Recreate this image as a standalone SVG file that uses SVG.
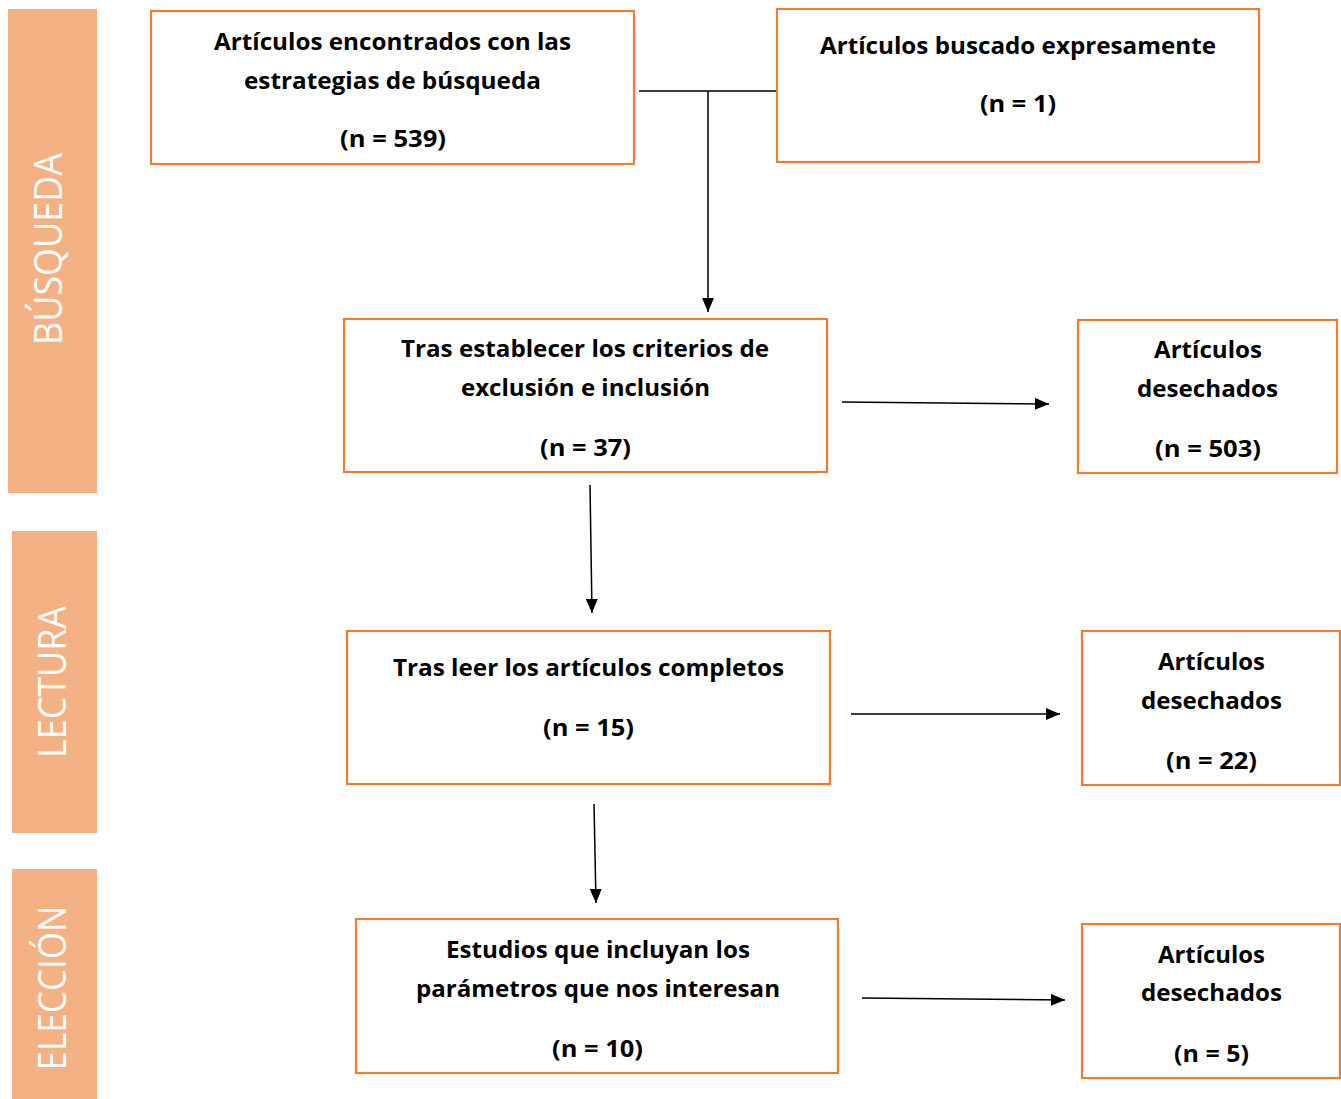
<svg xmlns="http://www.w3.org/2000/svg" width="1341" height="1099" viewBox="0 0 1341 1099">
<style>
.bar{fill:#F4B183;}
.side{fill:#ffffff;font-family:"Open Sans","Noto Sans",sans-serif;font-size:38px;font-weight:400;text-anchor:middle;}
.box{fill:#ffffff;stroke:#ED7D31;stroke-width:2.2;}
.t{fill:#000000;font-family:"Open Sans","Noto Sans",sans-serif;font-size:24px;font-weight:700;}
.c{fill:none;stroke:#000000;stroke-width:1.5;}
</style>
<defs>
<marker id="ah" markerWidth="14" markerHeight="12" refX="14" refY="6" orient="auto" markerUnits="userSpaceOnUse">
<path d="M0,0 L14,6 L0,12 Z" fill="#000000"/>
</marker>
</defs>
<rect width="1341" height="1099" fill="#ffffff"/>
<g id="stage-busqueda">
<rect class="bar" x="8" y="9" width="89" height="484"/>
<text class="side" transform="translate(62,249) rotate(-90)" textLength="192" lengthAdjust="spacingAndGlyphs">BÚSQUEDA</text>
</g>
<g id="stage-lectura">
<rect class="bar" x="12" y="531" width="85" height="302"/>
<text class="side" transform="translate(66,682) rotate(-90)" textLength="152" lengthAdjust="spacingAndGlyphs">LECTURA</text>
</g>
<g id="stage-eleccion">
<rect class="bar" x="12" y="869" width="85" height="230"/>
<text class="side" transform="translate(66,988) rotate(-90)" textLength="165" lengthAdjust="spacingAndGlyphs">ELECCIÓN</text>
</g>
<g id="connectors">
<line class="c" x1="639" y1="91" x2="779" y2="91"/>
<line class="c" x1="708" y1="91" x2="708" y2="312" marker-end="url(#ah)"/>
<line class="c" x1="842" y1="402" x2="1049" y2="404" marker-end="url(#ah)"/>
<line class="c" x1="590" y1="485" x2="592" y2="613" marker-end="url(#ah)"/>
<line class="c" x1="851" y1="714" x2="1060" y2="714" marker-end="url(#ah)"/>
<line class="c" x1="594" y1="804" x2="596" y2="903" marker-end="url(#ah)"/>
<line class="c" x1="862" y1="998" x2="1065" y2="1000" marker-end="url(#ah)"/>
</g>
<g id="box-encontrados">
<rect class="box" x="151" y="11" width="483" height="153"/>
<text class="t" x="214" y="50" textLength="357" lengthAdjust="spacingAndGlyphs">Artículos encontrados con las</text>
<text class="t" x="244" y="89" textLength="297" lengthAdjust="spacingAndGlyphs">estrategias de búsqueda</text>
<text class="t" x="340" y="147" textLength="106" lengthAdjust="spacingAndGlyphs">(n = 539)</text>
</g>
<g id="box-buscado">
<rect class="box" x="777" y="9" width="482" height="153"/>
<text class="t" x="820" y="54" textLength="396" lengthAdjust="spacingAndGlyphs">Artículos buscado expresamente</text>
<text class="t" x="980" y="112" textLength="76" lengthAdjust="spacingAndGlyphs">(n = 1)</text>
</g>
<g id="box-criterios">
<rect class="box" x="344" y="319" width="483" height="153"/>
<text class="t" x="401" y="357" textLength="368" lengthAdjust="spacingAndGlyphs">Tras establecer los criterios de</text>
<text class="t" x="461" y="396" textLength="249" lengthAdjust="spacingAndGlyphs">exclusión e inclusión</text>
<text class="t" x="540" y="456" textLength="91" lengthAdjust="spacingAndGlyphs">(n = 37)</text>
</g>
<g id="box-desechados-503">
<rect class="box" x="1078" y="320" width="259" height="153"/>
<text class="t" x="1154" y="358" textLength="108" lengthAdjust="spacingAndGlyphs">Artículos</text>
<text class="t" x="1137" y="397" textLength="141" lengthAdjust="spacingAndGlyphs">desechados</text>
<text class="t" x="1155" y="457" textLength="106" lengthAdjust="spacingAndGlyphs">(n = 503)</text>
</g>
<g id="box-lectura">
<rect class="box" x="347" y="631" width="483" height="153"/>
<text class="t" x="393" y="676" textLength="391" lengthAdjust="spacingAndGlyphs">Tras leer los artículos completos</text>
<text class="t" x="543" y="736" textLength="91" lengthAdjust="spacingAndGlyphs">(n = 15)</text>
</g>
<g id="box-desechados-22">
<rect class="box" x="1082" y="631" width="258" height="154"/>
<text class="t" x="1158" y="670" textLength="107" lengthAdjust="spacingAndGlyphs">Artículos</text>
<text class="t" x="1141" y="709" textLength="141" lengthAdjust="spacingAndGlyphs">desechados</text>
<text class="t" x="1166" y="769" textLength="91" lengthAdjust="spacingAndGlyphs">(n = 22)</text>
</g>
<g id="box-estudios">
<rect class="box" x="356" y="919" width="482" height="154"/>
<text class="t" x="446" y="958" textLength="304" lengthAdjust="spacingAndGlyphs">Estudios que incluyan los</text>
<text class="t" x="416" y="997" textLength="364" lengthAdjust="spacingAndGlyphs">parámetros que nos interesan</text>
<text class="t" x="552" y="1057" textLength="91" lengthAdjust="spacingAndGlyphs">(n = 10)</text>
</g>
<g id="box-desechados-5">
<rect class="box" x="1082" y="924" width="258" height="154"/>
<text class="t" x="1158" y="963" textLength="107" lengthAdjust="spacingAndGlyphs">Artículos</text>
<text class="t" x="1141" y="1001" textLength="141" lengthAdjust="spacingAndGlyphs">desechados</text>
<text class="t" x="1174" y="1062" textLength="75" lengthAdjust="spacingAndGlyphs">(n = 5)</text>
</g>
</svg>
